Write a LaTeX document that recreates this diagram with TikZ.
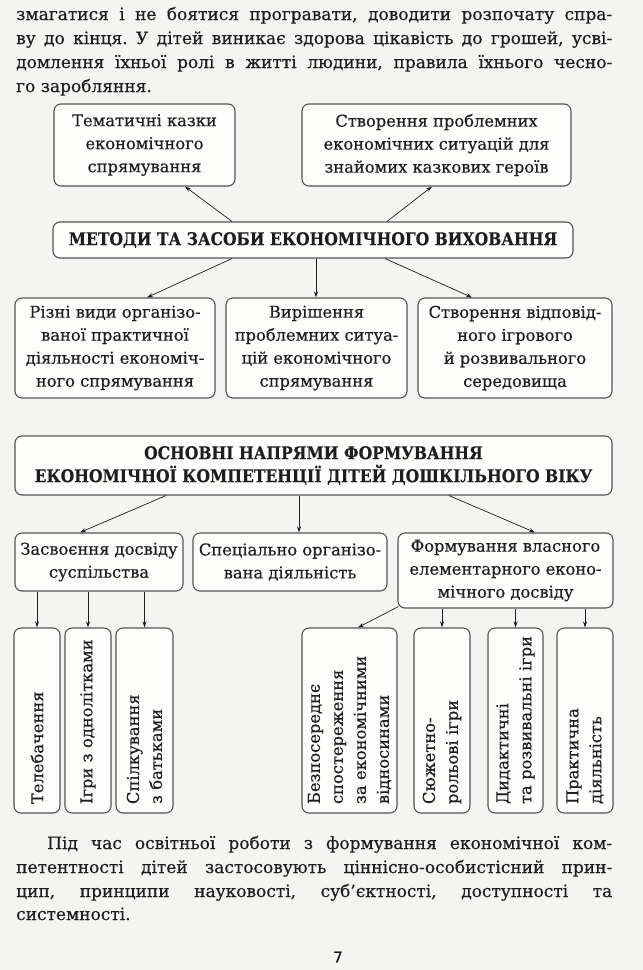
\documentclass[tikz,border=0pt]{standalone}
\usepackage{fontspec}
\setmainfont{DejaVu Serif}[FakeBold=0.4]
\newfontfamily\pagenumfont{DejaVu Sans}[FakeBold=0.6]
\usetikzlibrary{arrows.meta}
\definecolor{pagebg}{RGB}{244,244,242}
\definecolor{boxfill}{RGB}{253,253,252}
\definecolor{boxline}{RGB}{85,85,85}
\definecolor{ink}{RGB}{30,30,30}
\frenchspacing
\tikzset{
  bx/.style={draw=boxline, fill=boxfill, rounded corners=7pt, line width=1.1pt,
    inner sep=0pt, align=center, text=ink, font=\fontsize{16.3}{23}\selectfont},
  vbx/.style={bx, rotate=90, align=left},
  arr/.style={draw=ink, line width=0.7pt, -{Stealth[length=6pt,width=4pt]}},
  bodyline/.style={anchor=base west, inner sep=0pt, text=ink, font=\fontsize{17}{24}\selectfont},
  ttl/.style={font=\fontsize{17.5}{23}\selectfont\bfseries},
}
\newcommand{\narrowttl}[1]{\scalebox{0.89}[1]{#1}}
\begin{document}
\begin{tikzpicture}[x=1pt,y=-1pt]
\useasboundingbox (0,0) rectangle (643,970);
\fill[pagebg] (0,0) rectangle (643,970);

% top paragraph
\node[bodyline] (t1) at (16,20) {\makebox[596pt][s]{змагатися і не боятися програвати, доводити розпочату спра-}};
\node[bodyline] (t2) at (16,44) {\makebox[596pt][s]{ву до кінця. У дітей виникає здорова цікавість до грошей, усві-}};
\node[bodyline] (t3) at (16,68) {\makebox[596pt][s]{домлення їхньої ролі в житті людини, правила їхнього чесно-}};
\node[bodyline] (t4) at (16,92) {го заробляння.};

% methods block
\node[bx, minimum width=181pt, minimum height=82pt] (a) at (144.5,145) {Тематичні казки\\економічного\\спрямування};
\node[bx, minimum width=269pt, minimum height=82pt] (b) at (436.5,145) {Створення проблемних\\економічних ситуацій для\\знайомих казкових героїв};
\node[bx, ttl, minimum width=520pt, minimum height=36pt] (m) at (313,240) {\narrowttl{МЕТОДИ ТА ЗАСОБИ ЕКОНОМІЧНОГО ВИХОВАННЯ}};
\node[bx, minimum width=200pt, minimum height=100pt] (c1) at (115,348) {Різні види організо-\\ваної практичної\\діяльності економіч-\\ного спрямування};
\node[bx, minimum width=181pt, minimum height=100pt] (c2) at (316.5,348) {Вирішення\\проблемних ситуа-\\цій економічного\\спрямування};
\node[bx, minimum width=194pt, minimum height=100pt] (c3) at (515,348) {Створення відповід-\\ного ігрового\\й розвивального\\середовища};

\draw[arr] (m.north -| 232,0) -- (a.south -| 185,0);
\draw[arr] (m.north -| 387,0) -- (b.south -| 432,0);
\draw[arr] (m.south -| 232,0) -- (c1.north -| 147,0);
\draw[arr] (m.south -| 316,0) -- (c2.north -| 316,0);
\draw[arr] (m.south -| 385,0) -- (c3.north -| 472,0);

% directions block
\node[bx, ttl, minimum width=597pt, minimum height=59pt] (n) at (313.5,465.5) {\narrowttl{ОСНОВНІ НАПРЯМИ ФОРМУВАННЯ}\\\narrowttl{ЕКОНОМІЧНОЇ КОМПЕТЕНЦІЇ ДІТЕЙ ДОШКІЛЬНОГО ВІКУ}};
\node[bx, minimum width=168pt, minimum height=58pt] (d1) at (99,562) {Засвоєння досвіду\\суспільства};
\node[bx, minimum width=194pt, minimum height=58pt] (d2) at (290,562) {Спеціально організо-\\вана діяльність};
\node[bx, minimum width=215pt, minimum height=75pt] (d3) at (505.5,570.5) {Формування власного\\елементарного еконо-\\мічного досвіду};

\draw[arr] (n.south -| 166,0) -- (d1.north -| 80,0);
\draw[arr] (n.south -| 299,0) -- (d2.north -| 299,0);
\draw[arr] (n.south -| 449,0) -- (d3.north -| 535,0);

% vertical boxes
\tikzset{vtext/.style={text width=167pt}}
\node[vbx, minimum width=185pt, minimum height=46pt, vtext] (e1) at (37,720.5) {Телебачення};
\node[vbx, minimum width=185pt, minimum height=46pt, vtext] (e2) at (88,720.5) {\mbox{Ігри з однолітками}};
\node[vbx, minimum width=185pt, minimum height=57pt, vtext] (e3) at (144.5,720.5) {Спілкування\\з батьками};
\node[vbx, minimum width=185pt, minimum height=95pt, vtext] (e4) at (349.5,720.5) {Безпосереднє\\спостереження\\\mbox{за економічними}\\відносинами};
\node[vbx, minimum width=185pt, minimum height=56pt, vtext] (e5) at (442,720.5) {Сюжетно-\\рольові ігри};
\node[vbx, minimum width=185pt, minimum height=55pt, vtext] (e6) at (515.5,720.5) {Дидактичні\\\mbox{та розвивальні ігри}};
\node[vbx, minimum width=185pt, minimum height=56pt, vtext] (e7) at (585,720.5) {Практична\\діяльність};

\draw[arr] (d1.south -| e1) -- (e1);
\draw[arr] (d1.south -| e2) -- (e2);
\draw[arr] (d1.south -| e3) -- (e3);
\coordinate (d3c) at ([shift={(1,-2)}]d3.south west);
\draw[arr] (d3c) -- (e4.east -| 358,0);
\draw[arr] (d3.south -| e5) -- (e5);
\draw[arr] (d3.south -| e6) -- (e6);
\draw[arr] (d3.south -| e7) -- (e7);

% bottom paragraph
\node[bodyline] (p1) at (47,849) {\makebox[565pt][s]{Під час освітньої роботи з формування економічної ком-}};
\node[bodyline] (p2) at (16,873) {\makebox[596pt][s]{петентності дітей застосовують ціннісно-особистісний прин-}};
\node[bodyline] (p3) at (16,897) {\makebox[596pt][s]{цип, принципи науковості, суб’єктності, доступності та}};
\node[bodyline] (p4) at (16,920) {системності.};

\node[inner sep=0pt, text=ink, font=\pagenumfont\fontsize{15}{18}\selectfont] (pg) at (338,957) {7};
\end{tikzpicture}
\end{document}
